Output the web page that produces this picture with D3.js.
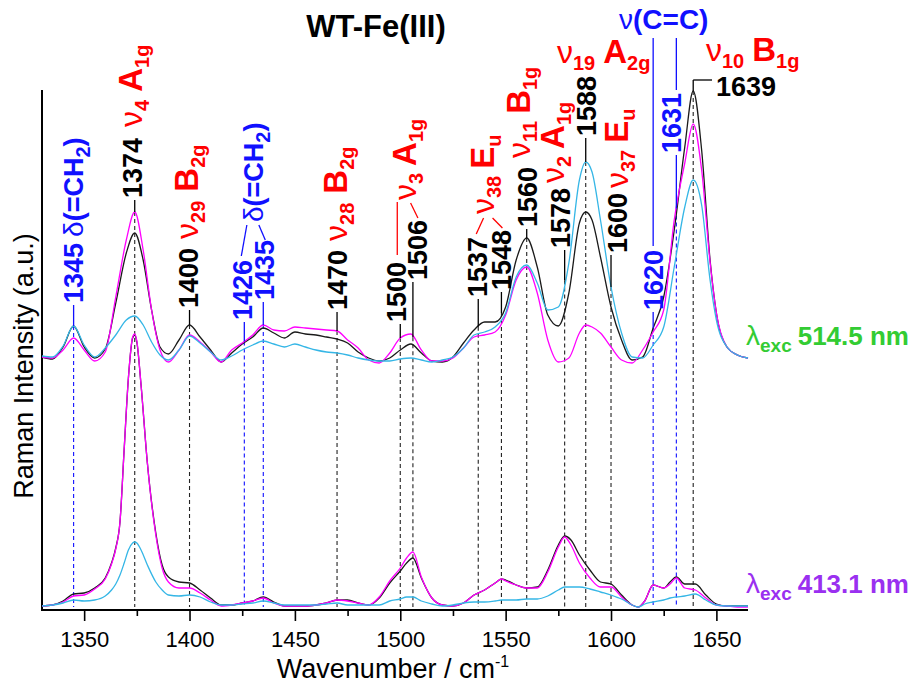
<!DOCTYPE html>
<html><head><meta charset="utf-8">
<script src="https://cdn.jsdelivr.net/npm/d3@7"></script>
<style>body{margin:0;background:#fff} svg text{font-family:Arial,"Liberation Sans",sans-serif}</style>
</head><body><svg id="chart" width="919" height="684"></svg>
<script>
// ---------- DATA ----------
const title = "WT-Fe(III)";
const xTicks = [1350, 1400, 1450, 1500, 1550, 1600, 1650];
const xMinorTicks = [1375, 1425, 1475, 1525, 1575, 1625];

// 514.5 nm excitation (upper set, values relative to its own baseline)
const waveUpper = [1330,1335,1340,1345,1350,1355,1360,1365,1370,1374,1378,1382,1386,1390,1395,1400,1405,1410,1415,1420,1425,1430,1435,1440,1445,1450,1455,1460,1465,1470,1475,1480,1485,1490,1495,1500,1505,1510,1515,1520,1525,1530,1535,1540,1545,1550,1555,1560,1565,1570,1575,1580,1585,1588,1591,1595,1600,1605,1610,1615,1620,1625,1630,1635,1639,1643,1647,1650,1655,1660,1665];
const black514 = [0,-2,10,31,10,-1,8,54,104,124,97,47,10,3,17,32,20,7,-5,4,13,20,29,24,19,25,23,22,20,18,14,5,-1,-4,-1,7,13,4,-4,-5,0,14,27,35,35,50,97,119,90,42,31,64,134,145,137,100,50,17,-3,0,29,60,127,210,266,207,97,44,10,2,-1];
const magenta514 = [0,-1,7,19,7,-4,5,60,117,145,107,47,7,-5,7,22,15,5,-5,7,14,22,32,27,26,30,29,28,27,26,17,9,-3,-6,4,19,23,7,-4,-4,-1,9,20,22,25,42,77,90,64,17,-5,-1,24,32,30,24,10,-3,-6,7,25,47,137,194,233,187,95,44,10,2,-1];
const cyan514 = [1,0,11,31,12,0,9,22,37,41,32,15,2,-3,7,21,14,5,-3,1,7,12,16,13,10,13,10,7,5,4,2,-1,-3,-4,-4,-2,-1,-3,-5,-3,0,9,22,25,30,44,80,92,74,47,50,94,177,195,185,137,70,24,0,-1,12,30,90,150,177,152,77,37,10,2,-1];

// 413.1 nm excitation (lower set)
const waveLower = [1330,1335,1340,1345,1350,1355,1360,1363,1365,1367,1369,1371,1373,1374,1375,1377,1380,1384,1387,1390,1395,1400,1405,1410,1415,1420,1425,1430,1435,1440,1445,1450,1455,1460,1465,1470,1475,1480,1485,1490,1495,1500,1503,1506,1510,1515,1520,1525,1530,1535,1540,1545,1548,1550,1555,1560,1565,1570,1575,1578,1581,1585,1590,1595,1600,1605,1610,1613,1616,1620,1625,1628,1631,1635,1640,1645,1650,1655,1660,1665];
const black413 = [1,2,6,13,14,19,29,44,59,85,158,229,269,272,265,222,144,74,42,30,25,24,17,9,2,2,4,6,10,5,1,1,1,2,4,7,7,4,2,9,24,36,44,49,29,9,2,1,4,12,17,24,28,27,22,19,20,37,62,71,67,52,37,25,23,12,2,0,6,22,19,25,30,23,23,12,3,1,1,1];
const magenta413 = [1,2,5,11,12,18,28,43,58,85,158,229,270,273,266,222,144,72,39,25,19,19,14,7,1,2,4,6,9,4,1,1,1,2,4,7,6,4,2,10,26,39,49,55,30,9,2,1,4,12,17,24,28,26,22,19,19,35,60,70,62,44,29,20,20,10,2,0,6,22,19,23,29,19,17,9,2,1,0,0];
const cyan413 = [1,2,4,7,6,7,11,17,23,32,44,57,64,65,64,57,42,25,17,12,11,12,10,5,2,2,3,4,6,4,2,2,2,2,3,4,2,2,2,2,6,8,10,10,6,3,1,2,4,5,5,6,7,7,7,8,8,11,17,20,20,20,18,15,12,8,2,0,3,5,7,9,10,11,13,7,2,1,1,1];
const upperOffset = 250;

// marked band positions
const peakWn   = [1345,1374,1400,1426,1435,1470,1500,1506,1537,1548,1560,1578,1588,1600,1620,1631,1639];
const peakKind = ["b","k","k","b","b","k","k","k","k","k","k","k","k","k","b","b","k"];

// ---------- DRAWING ----------
const svg = d3.select("#chart");
const RED = "#ff0000", BLUE = "#1010ff", BLK = "#000", GREEN = "#33cc33", PURPLE = "#9a30f0";
const x = d3.scaleLinear().domain([1330, 1665]).range([42, 748]);
const y = d3.scaleLinear().domain([0, 520]).range([607, 87]);
const axisY = 610;

// axes
svg.append("line").attr("x1",42).attr("x2",42).attr("y1",90).attr("y2",axisY+1).attr("stroke","#000").attr("stroke-width",2);
svg.append("line").attr("x1",41).attr("x2",748).attr("y1",axisY).attr("y2",axisY).attr("stroke","#000").attr("stroke-width",2);
const gx = svg.append("g").attr("transform",`translate(0,${axisY})`)
  .call(d3.axisBottom(x).tickValues(xTicks).tickSize(11).tickSizeOuter(0).tickFormat(d3.format("d")));
gx.select(".domain").remove();
gx.selectAll(".tick line").attr("stroke","#000").attr("stroke-width",1.6);
gx.selectAll(".tick text").attr("font-size",22).attr("fill","#000").attr("dy",0).attr("y",37)
  .style("font-family","Arial, 'Liberation Sans', sans-serif");
svg.append("g").attr("transform",`translate(0,${axisY})`)
  .call(d3.axisBottom(x).tickValues(xMinorTicks).tickSize(6).tickFormat(""))
  .call(g=>{g.select(".domain").remove(); g.selectAll(".tick line").attr("stroke","#000").attr("stroke-width",1.6);});

// axis titles
const xt = svg.append("text").attr("x",393).attr("y",678).attr("text-anchor","middle").attr("font-size",27).attr("fill","#000");
xt.append("tspan").text("Wavenumber / cm");
xt.append("tspan").attr("font-size",16).attr("dy",-11).text("-1");
svg.append("text").attr("transform","translate(33,366) rotate(-90)").attr("text-anchor","middle")
  .attr("font-size",27).attr("fill","#000").text("Raman Intensity (a.u.)");
svg.append("text").attr("x",376).attr("y",37).attr("text-anchor","middle").attr("font-size",31)
  .attr("font-weight","bold").attr("fill","#000").text(title);

// helpers to interpolate top of upper set
function interp(wave, vals){ return d3.scaleLinear().domain(wave).range(vals).clamp(true); }
const upFns = [black514, magenta514, cyan514].map(v => interp(waveUpper, v));
const topY = wn => y(d3.max(upFns, f => f(wn)) + upperOffset);

// dashed guide lines
peakWn.forEach((wn,i)=>{
  svg.append("line").attr("x1",x(wn)).attr("x2",x(wn)).attr("y1",topY(wn)).attr("y2",y(0))
    .attr("stroke", peakKind[i]==="b" ? BLUE : "#222").attr("stroke-width",1.1).attr("stroke-dasharray","4,3");
});

// spectra
const line = d3.line().x(d=>x(d[0])).y(d=>y(d[1])).curve(d3.curveMonotoneX);
const series = [
  [waveLower, black413, 0, "#1a1a1a"], [waveLower, magenta413, 0, "#ff00ff"], [waveLower, cyan413, 0, "#35b6e6"],
  [waveUpper, black514, upperOffset, "#1a1a1a"], [waveUpper, magenta514, upperOffset, "#ff00ff"], [waveUpper, cyan514, upperOffset, "#35b6e6"]
];
series.forEach(([w, v, off, col])=>{
  svg.append("path").datum(w.map((d,i)=>[d, v[i]+off])).attr("d",line)
    .attr("fill","none").attr("stroke",col).attr("stroke-width",1.3);
});

// ---------- labels ----------
const N = (t,c=BLK,o={}) => Object.assign({t,c,s:27,w:"bold"},o);
const Rb = (t,o={}) => Object.assign({t,c:RED,s:33,w:"bold"},o);
const G = (t,c=RED,o={}) => Object.assign({t,c,s:32,w:"normal"},o);
const S = (t,c=RED,o={}) => Object.assign({t,c,s:20,w:"bold",sub:true},o);

function fillText(el, parts){
  let prev = 0;
  parts.forEach(p=>{
    const sh = p.sub ? 7 : 0;
    el.append("tspan").attr("fill",p.c).attr("font-size",p.s).attr("font-weight",p.w)
      .attr("dx",p.dx||0).attr("dy",sh-prev).text(p.t);
    prev = sh;
  });
}
function rotLabel(wn, off, bottom, parts){
  const el = svg.append("text").attr("transform",`translate(${x(wn)+off},${bottom}) rotate(-90)`).attr("y",9.7);
  fillText(el, parts);
}
function hLabel(px, base, parts){
  const el = svg.append("text").attr("x",px).attr("y",base);
  fillText(el, parts);
}
function conn(wn, from, col){
  svg.append("line").attr("x1",x(wn)).attr("x2",x(wn)).attr("y1",from).attr("y2",topY(wn)).attr("stroke",col).attr("stroke-width",1.3);
}
function seg(x1,y1,x2,y2,col){
  svg.append("line").attr("x1",x1).attr("y1",y1).attr("x2",x2).attr("y2",y2).attr("stroke",col).attr("stroke-width",1.3);
}

rotLabel(1345, 0, 303, [N("1345",BLUE), G("δ",BLUE,{s:28,dx:6}), N("(=CH",BLUE), S("2",BLUE), N(")",BLUE)]);
conn(1345, 305, BLUE);
rotLabel(1374, -2, 198, [N("1374"), G("ν",RED,{dx:11}), S("4"), Rb("A",{dx:8}), S("1g")]);
conn(1374, 200, BLK);
rotLabel(1400, -1, 308, [N("1400"), G("ν",RED,{dx:9}), S("29"), Rb("B",{dx:9}), S("2g")]);
conn(1400, 310, BLK);
rotLabel(1426, -2, 320, [N("1426",BLUE)]);
conn(1426, 322, BLUE);
rotLabel(1435, 1, 300, [N("1435",BLUE)]);
conn(1435, 302, BLUE);
rotLabel(1431, -2, 222, [G("δ",BLUE,{s:28}), N("(=CH",BLUE), S("2",BLUE), N(")",BLUE)]);
seg(x(1431)-8, 225, x(1426)-3, 256, BLUE);
seg(x(1431)+4, 225, x(1435)+2, 240, BLUE);
rotLabel(1470, 0, 310, [N("1470"), G("ν",RED,{dx:9}), S("28"), Rb("B",{dx:9}), S("2g")]);
conn(1470, 312, BLK);
rotLabel(1500, -4, 322, [N("1500")]);
conn(1500, 324, BLK);
rotLabel(1506, 4, 280, [N("1506")]);
conn(1506, 282, BLK);
rotLabel(1503, 0, 200, [G("ν"), S("3"), Rb("A",{dx:7}), S("1g")]);
seg(x(1500)-3, 202, x(1500)-3, 255, RED);
seg(x(1503)+4, 203, x(1506)+5, 218, RED);
rotLabel(1537, -1, 297, [N("1537")]);
conn(1537, 299, BLK);
rotLabel(1548, 0, 290, [N("1548")]);
conn(1548, 292, BLK);
rotLabel(1540, 0, 214, [G("ν"), S("38"), Rb("E",{dx:7}), S("u")]);
seg(x(1540)-1, 218, x(1537)-2, 234, RED);
seg(x(1540)+8, 218, x(1548)+1, 228, RED);
rotLabel(1560, 1, 227, [N("1560")]);
conn(1560, 229, BLK);
rotLabel(1557, 0, 158, [G("ν"), S("11"), Rb("B",{dx:7}), S("1g")]);
rotLabel(1578, -4, 248, [N("1578")]);
conn(1578, 250, BLK);
rotLabel(1573, 0, 183, [G("ν"), S("2"), Rb("A",{dx:7}), S("1g")]);
rotLabel(1588, 1, 136, [N("1588")]);
conn(1588, 138, BLK);
rotLabel(1600, 6, 253, [N("1600")]);
conn(1600, 255, BLK);
rotLabel(1600, 7, 188, [G("ν"), S("37"), Rb("E",{dx:7}), S("u")]);
rotLabel(1620, 0, 310, [N("1620",BLUE)]);
conn(1620, 312, BLUE);
rotLabel(1631, -5, 153, [N("1631",BLUE)]);
conn(1631, 155, BLUE);
seg(x(1620), 38, x(1620), 246, BLUE);
seg(x(1631), 38, x(1631), 90, BLUE);

hLabel(619, 29, [G("ν",BLUE,{s:28}), N("(C=C)",BLUE,{s:28})]);
hLabel(557, 63, [G("ν"), S("19"), Rb("A",{dx:8}), S("2g")]);
hLabel(706, 61, [G("ν"), S("10"), Rb("B",{dx:8}), S("1g")]);
hLabel(716, 96, [N("1639")]);
seg(x(1639), 80, 712, 80, BLK);
conn(1639, 80, BLK);

hLabel(746, 345, [G("λ",GREEN,{s:28}), S("exc",GREEN,{s:19}), N("514.5 nm",GREEN,{s:26,dx:6})]);
hLabel(746, 593, [G("λ",PURPLE,{s:28}), S("exc",PURPLE,{s:19}), N("413.1 nm",PURPLE,{s:26,dx:6})]);
</script></body></html>
